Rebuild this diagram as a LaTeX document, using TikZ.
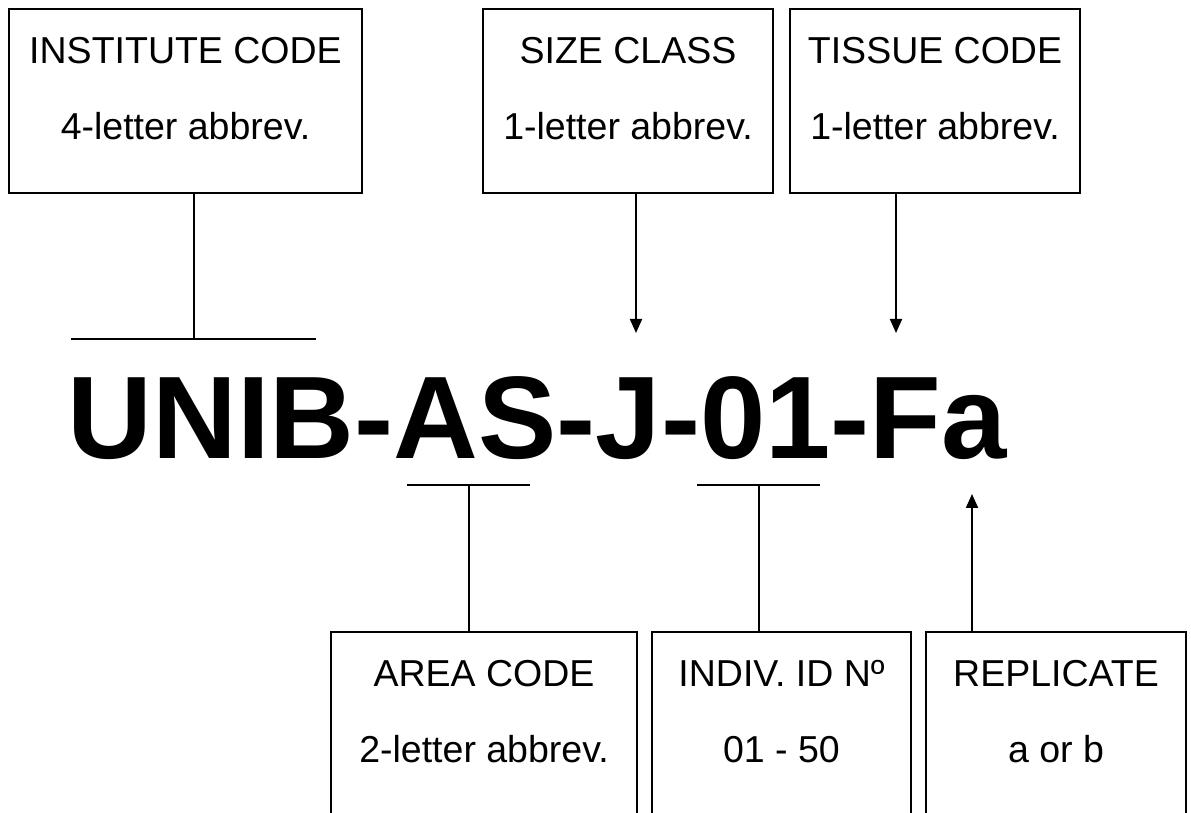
\documentclass[tikz,border=0pt]{standalone}
\usepackage{fontspec}
\setmainfont{Liberation Sans}
\usepackage{tikz}
\usetikzlibrary{
  arrows.meta,
  chains,
  scopes,
  positioning
}
\newcommand{\lowpad}{\rule[-25pt]{0pt}{25pt}}

\begin{document}
\begin{tikzpicture}[
      x=1pt,y=1pt,
      codebox/.style={
         rectangle,
         draw=black,
         line width=2pt,
         minimum width=#1,
         minimum height=184pt,
         inner sep=0pt,
         align=center,
         font=\fontsize{37.5}{76}\selectfont
      },
      sample/.style={
         inner sep=0pt,
         anchor=base west,
         font=\fontsize{117.4}{120}\selectfont\bfseries
      },
      point/.style={coordinate},
      bar/.style={line width=2.5pt},
      stem/.style={line width=2pt},
      >={Triangle[length=14pt,width=12pt]},
      tip/.style={->,line width=2pt}
    ]
    \useasboundingbox (0,0) rectangle (1191,812);
    \clip (0,0) rectangle (1191,812);
    % the sample code
    \node (code) [sample] at (67.4,353) {UNIB-AS-J-01-Fa};
    % upper row
    \node (inst) [codebox=353pt] at (185.5,711) {INSTITUTE CODE\\4-letter abbrev.\lowpad};
    \node (size) [codebox=290pt] at (628,711) {SIZE CLASS\\1-letter abbrev.\lowpad};
    \node (tissue) [codebox=290pt] at (935,711) {TISSUE CODE\\1-letter abbrev.\lowpad};
    % lower row
    \node (area) [codebox=306pt] at (484,88) {AREA CODE\\2-letter abbrev.\lowpad};
    \node (indiv) [codebox=259pt] at (781.5,88) {INDIV. ID Nº\\01 - 50\lowpad};
    \node (repl) [codebox=260pt] at (1056,88) {REPLICATE\\a or b\lowpad};
    % marks on the code
    \node (instbar) [point] at (193.5,473) {};
    \node (areabar) [point] at (468.5,327) {};
    \node (indivbar) [point] at (758.5,327) {};
    \node (sizetip) [point] at (636,479) {};
    \node (tissuetip) [point] at (896,479) {};
    \node (repltip) [point] at (972,318) {};
    \node (sizefoot) [point] at (size.south -| sizetip) {};
    \node (tissuefoot) [point] at (tissue.south -| tissuetip) {};
    \node (replfoot) [point] at (repl.north -| repltip) {};
    \draw[bar] ([xshift=-122.5pt]instbar) -- ([xshift=122.5pt]instbar);
    \draw[bar] ([xshift=-61.5pt]areabar) -- ([xshift=61.5pt]areabar);
    \draw[bar] ([xshift=-61.5pt]indivbar) -- ([xshift=61.5pt]indivbar);
    \draw[stem] (inst.south -| instbar) -- (instbar);
    \draw[stem] (areabar) -- (area.north -| areabar);
    \draw[stem] (indivbar) -- (indiv.north -| indivbar);
  { [start chain]
       \chainin (sizefoot);
       \chainin (sizetip)    [join=by tip];
  }
  { [start chain]
       \chainin (tissuefoot);
       \chainin (tissuetip)  [join=by tip];
  }
  { [start chain]
       \chainin (replfoot);
       \chainin (repltip)    [join=by tip];
  }
\end{tikzpicture}
\end{document}
